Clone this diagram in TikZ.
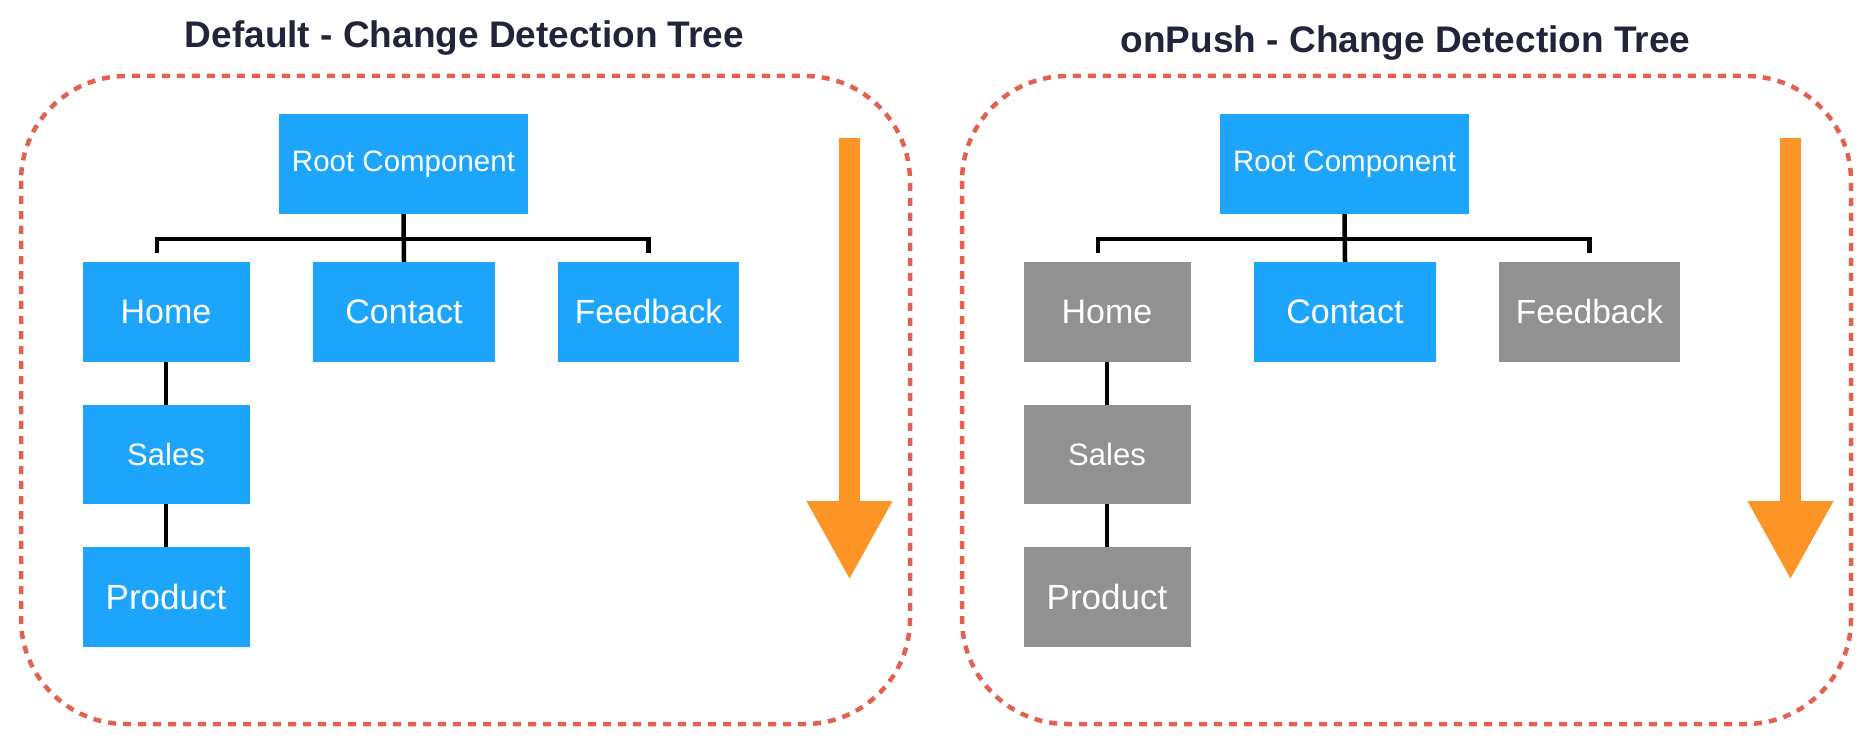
\documentclass[tikz,border=0pt]{standalone}
\usepackage{fontspec}
\setmainfont{Liberation Sans}
\usetikzlibrary{arrows.meta,calc}

\definecolor{cdblue}{RGB}{29,165,252}
\definecolor{cdgrey}{RGB}{145,145,145}
\definecolor{cdorange}{RGB}{252,148,38}
\definecolor{cdred}{RGB}{226,97,80}
\definecolor{cdtitle}{RGB}{34,37,58}

\newcommand{\fs}[1]{\fontsize{#1}{#1}\selectfont}

\tikzset{
  comp/.style={rectangle, inner sep=0pt, text=white, minimum width=167pt, minimum height=100pt},
  checked/.style={comp, fill=cdblue},
  skipped/.style={comp, fill=cdgrey},
  link/.style={line width=4.5pt, black},
  frame/.style={draw=cdred, line width=4.5pt, dash pattern=on 8pt off 7pt, rounded corners=105pt},
  flow/.style={cdorange, line width=21pt, -{Triangle[width=80pt,length=79pt]}},
  heading/.style={anchor=base, text=cdtitle, font=\bfseries\fs{37}}
}

\begin{document}
\begin{tikzpicture}[x=1pt, y=-1pt]
  \useasboundingbox (0,0) rectangle (1874,738);

  % Default tree
  \node[heading] (ltitle) at (464.5,48) {Default - Change Detection Tree};
  \draw[frame] (21,76) rectangle (910,724);

  \node[checked, minimum width=249pt, font=\fs{29.5}] (lroot) at (403.5,164) {Root Component};
  \node[checked, font=\fs{34}] (lhome) at (166,312) {Home};
  \node[checked, minimum width=182pt, font=\fs{34}] (lcontact) at (404,312) {Contact};
  \node[checked, minimum width=181pt, font=\fs{33.5}] (lfeedback) at (648.5,312) {Feedback};
  \node[checked, minimum height=99pt, font=\fs{31}] (lsales) at (166,454.5) {Sales};
  \node[checked, font=\fs{35}] (lproduct) at (166,597) {Product};

  \coordinate (ljoin) at (404,239);
  \draw[link] (lroot.south) -- (lcontact.north);
  \draw[link] ($(lhome.north)+(-9,-9)$) |- (ljoin) -| ($(lfeedback.north)+(0,-9)$);
  \draw[link] (lhome.south) -- (lsales.north);
  \draw[link] (lsales.south) -- (lproduct.north);

  \coordinate (lflowtop) at (849.5,138);
  \coordinate (lflowtip) at (849.5,580);
  \draw[flow] (lflowtop) -- (lflowtip);

  % onPush tree
  \node[heading] (rtitle) at (1405.5,53) {onPush - Change Detection Tree};
  \draw[frame] (962,76) rectangle (1851,724);

  \node[checked, minimum width=249pt, font=\fs{29.5}] (rroot) at (1344.5,164) {Root Component};
  \node[skipped, font=\fs{34}] (rhome) at (1107,312) {Home};
  \node[checked, minimum width=182pt, font=\fs{34}] (rcontact) at (1345,312) {Contact};
  \node[skipped, minimum width=181pt, font=\fs{33.5}] (rfeedback) at (1589.5,312) {Feedback};
  \node[skipped, minimum height=99pt, font=\fs{31}] (rsales) at (1107,454.5) {Sales};
  \node[skipped, font=\fs{35}] (rproduct) at (1107,597) {Product};

  \coordinate (rjoin) at (1345,239);
  \draw[link] (rroot.south) -- (rcontact.north);
  \draw[link] ($(rhome.north)+(-9,-9)$) |- (rjoin) -| ($(rfeedback.north)+(0,-9)$);
  \draw[link] (rhome.south) -- (rsales.north);
  \draw[link] (rsales.south) -- (rproduct.north);

  \coordinate (rflowtop) at (1790.5,138);
  \coordinate (rflowtip) at (1790.5,580);
  \draw[flow] (rflowtop) -- (rflowtip);
\end{tikzpicture}
\end{document}
